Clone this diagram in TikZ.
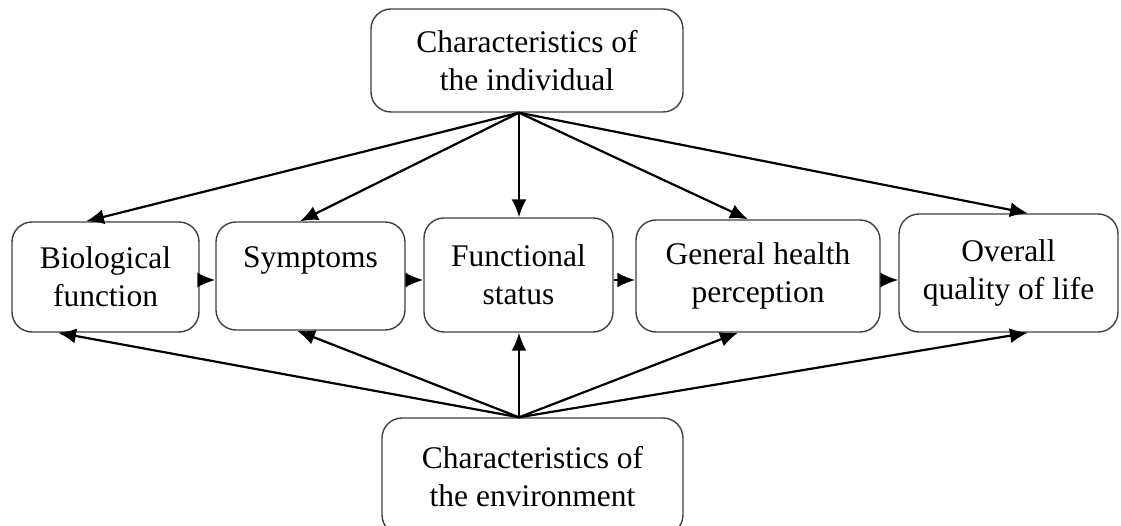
\documentclass[tikz,border=0pt]{standalone}
\usepackage{fontspec}
\setmainfont{Liberation Serif}
\usetikzlibrary{arrows.meta,calc}
\begin{document}
\begin{tikzpicture}[x=1pt,y=-1pt,
  box/.style={draw=black!75, line width=1.4pt, rounded corners=20pt,
    inner sep=0pt, align=center, font=\fontsize{31.5}{38}\selectfont},
  arr/.style={draw=black, line width=2.2pt, -{Latex[length=18pt,width=15pt]}}]
\useasboundingbox (0,0) rectangle (1121,526);
% boxes
\node[box, minimum width=312pt, minimum height=103pt] (top) at (527,60.5) {Characteristics of\\the individual};
\node[box, minimum width=187pt, minimum height=110pt] (bio) at (105.5,277) {Biological\\function};
\node[box, minimum width=189pt, minimum height=108pt] (sym) at (310.5,276) {Symptoms\\\mbox{}};
\node[box, minimum width=189pt, minimum height=114pt] (fun) at (518.5,275) {Functional\\status};
\node[box, minimum width=244pt, minimum height=112pt] (gen) at (758,276) {General health\\perception};
\node[box, minimum width=219pt, minimum height=118pt] (ovr) at (1008.5,273) {Overall\\quality of life};
\node[box, minimum width=301pt, minimum height=117pt] (bot) at (532.5,476.5) {Characteristics of\\the environment};
% hubs where the fans of arrows meet
\coordinate (thub) at ([xshift=-8pt]top.south);
\coordinate (bhub) at ([xshift=-13.5pt]bot.north);
% arrows from the individual
\draw[arr] (thub) -- ([xshift=-19.5pt]bio.north);
\draw[arr] (thub) -- ([xshift=-10.5pt]sym.north);
\draw[arr] (thub) -- (thub |- fun.north);
\draw[arr] (thub) -- ([xshift=-10pt]gen.north);
\draw[arr] (thub) -- ([xshift=19.5pt]ovr.north);
% arrows from the environment
\draw[arr] (bhub) -- ([xshift=-47.5pt]bio.south);
\draw[arr] (bhub) -- ([xshift=-13.5pt]sym.south);
\draw[arr] (bhub) -- (bhub |- fun.south);
\draw[arr] (bhub) -- ([xshift=-20pt]gen.south);
\draw[arr] (bhub) -- ([xshift=19.5pt]ovr.south);
% chain of outcomes
\draw[arr] ([yshift=-3pt]bio.east) -- ([yshift=-3pt]bio.east -| sym.west);
\draw[arr] ([yshift=-4pt]sym.east) -- ([yshift=-4pt]sym.east -| fun.west);
\draw[arr] ([yshift=-5pt]fun.east) -- ([yshift=-5pt]fun.east -| gen.west);
\draw[arr] ([yshift=-4pt]gen.east) -- ([yshift=-4pt]gen.east -| ovr.west);
\end{tikzpicture}
\end{document}
